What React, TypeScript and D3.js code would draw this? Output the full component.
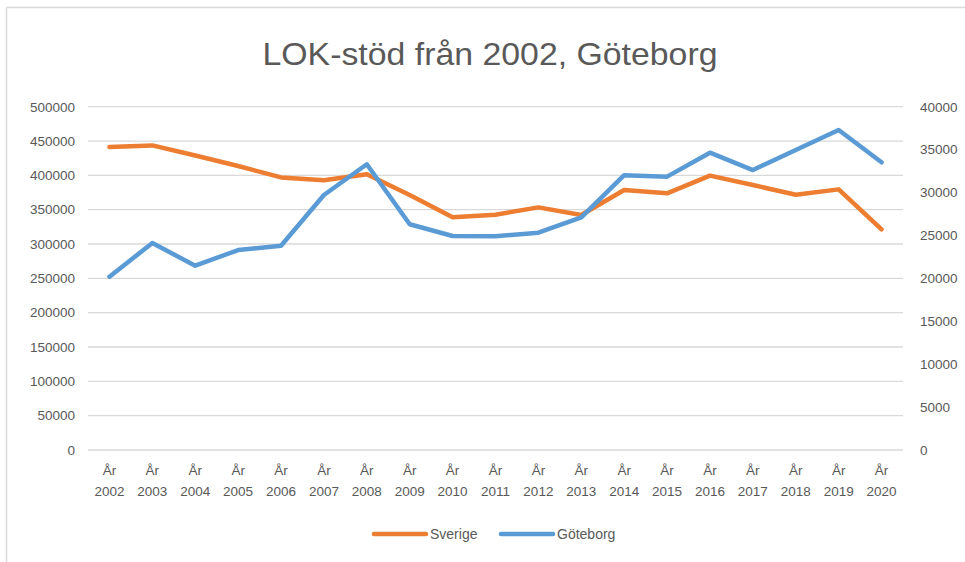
import React from "react";
import * as d3 from "d3";

const years = ["2002","2003","2004","2005","2006","2007","2008","2009","2010","2011","2012","2013","2014","2015","2016","2017","2018","2019","2020"];
const sverige = [441200,443600,429000,413600,397000,392800,401500,371400,338900,342700,353400,342300,378600,373800,399600,385900,371800,379600,321400];
const goteborg = [20190,24120,21470,23300,23800,29710,33290,26300,24930,24900,25320,27110,32020,31850,34640,32620,34950,37290,33520];
const leftTicks = [0,50000,100000,150000,200000,250000,300000,350000,400000,450000,500000];
const rightTicks = [0,5000,10000,15000,20000,25000,30000,35000,40000];
const title = "LOK-stöd från 2002, Göteborg";
const seriesNames = ["Sverige", "Göteborg"];

const ORANGE = "#ED7D31";
const BLUE = "#5B9BD5";
const GRID = "#D9D9D9";
const TEXT = "#595959";
const FONT = "Liberation Sans, Arial, sans-serif";

export default function App() {
  const W = 965, H = 562;
  const left = 88, right = 903, top = 106.7, bottom = 450;
  const x = d3.scaleBand<string>().domain(years).range([left, right]);
  const xc = (y: string) => (x(y) as number) + x.bandwidth() / 2;
  const yL = d3.scaleLinear().domain([0, 500000]).range([bottom, top]);
  const yR = d3.scaleLinear().domain([0, 40000]).range([bottom, top]);
  const lineL = d3.line<number>().x((_, i) => xc(years[i])).y((d) => yL(d));
  const lineR = d3.line<number>().x((_, i) => xc(years[i])).y((d) => yR(d));

  return (
    <svg width={W} height={H} style={{ position: "absolute", left: 0, top: 0, background: "#fff" }} fontFamily={FONT}>
      <rect x={0} y={0} width={W} height={H} fill="#fff" />
      <line x1={6.5} y1={7.5} x2={W} y2={7.5} stroke={GRID} strokeWidth={1.5} />
      <line x1={6.5} y1={7.5} x2={6.5} y2={H} stroke={GRID} strokeWidth={1.5} />
      <text x={490} y={65} textAnchor="middle" fontSize={32} fill={TEXT} textLength={455} lengthAdjust="spacingAndGlyphs">{title}</text>
      {leftTicks.map((t) => (
        <g key={"g" + t}>
          <line x1={left} x2={right} y1={yL(t)} y2={yL(t)} stroke={GRID} strokeWidth={1.3} />
          <text x={75} y={yL(t) + 4.8} textAnchor="end" fontSize={13.5} fill={TEXT}>{t}</text>
        </g>
      ))}
      {rightTicks.map((t) => (
        <text key={"r" + t} x={920} y={yR(t) + 4.8} textAnchor="start" fontSize={13.5} fill={TEXT}>{t}</text>
      ))}
      {years.map((yr) => (
        <g key={yr}>
          <text x={xc(yr)} y={475} textAnchor="middle" fontSize={13.5} fill={TEXT}>År</text>
          <text x={xc(yr)} y={496} textAnchor="middle" fontSize={13.5} fill={TEXT}>{yr}</text>
        </g>
      ))}
      <path d={lineL(sverige) || ""} fill="none" stroke={ORANGE} strokeWidth={4.5} strokeLinecap="round" strokeLinejoin="round" />
      <path d={lineR(goteborg) || ""} fill="none" stroke={BLUE} strokeWidth={4.5} strokeLinecap="round" strokeLinejoin="round" />
      <line x1={374} x2={426} y1={534} y2={534} stroke={ORANGE} strokeWidth={4.5} strokeLinecap="round" />
      <text x={430} y={539} fontSize={14} fill={TEXT}>{seriesNames[0]}</text>
      <line x1={501} x2={553} y1={534} y2={534} stroke={BLUE} strokeWidth={4.5} strokeLinecap="round" />
      <text x={557} y={539} fontSize={14} fill={TEXT}>{seriesNames[1]}</text>
    </svg>
  );
}
